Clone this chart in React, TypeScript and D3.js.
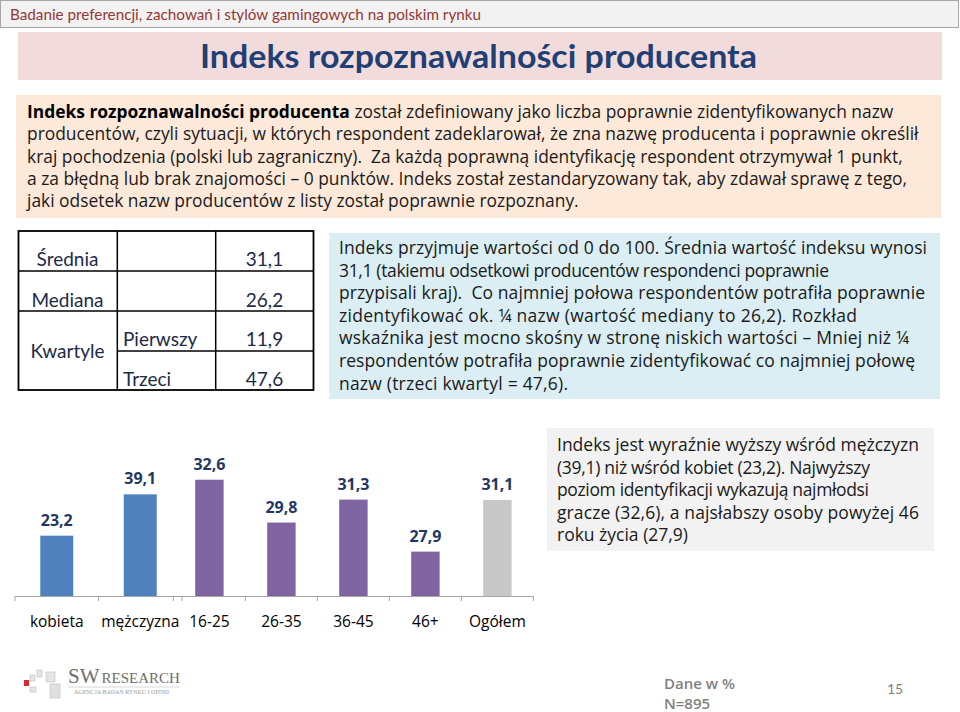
import React from "react";
import * as d3 from "d3";

// ---------- data ----------
const headerText = "Badanie preferencji, zachowań i stylów gamingowych na polskim rynku";
const titleText = "Indeks rozpoznawalności producenta";
const introBold = "Indeks rozpoznawalności producenta";
const introLines = [
  " został zdefiniowany jako liczba poprawnie zidentyfikowanych nazw",
  "producentów, czyli sytuacji, w których respondent zadeklarował, że zna nazwę producenta i poprawnie określił",
  "kraj pochodzenia (polski lub zagraniczny).  Za każdą poprawną identyfikację respondent otrzymywał 1 punkt,",
  "a za błędną lub brak znajomości – 0 punktów. Indeks został zestandaryzowany tak, aby zdawał sprawę z tego,",
  "jaki odsetek nazw producentów z listy został poprawnie rozpoznany.",
];

const statNames = ["Średnia", "Mediana"];
const statValues = [31.1, 26.2];
const quartileGroup = "Kwartyle";
const quartileNames = ["Pierwszy", "Trzeci"];
const quartileValues = [11.9, 47.6];

const blueLines = [
  "Indeks przyjmuje wartości od 0 do 100. Średnia wartość indeksu wynosi",
  "31,1 (takiemu odsetkowi producentów respondenci poprawnie",
  "przypisali kraj).  Co najmniej połowa respondentów potrafiła poprawnie",
  "zidentyfikować ok. ¼ nazw (wartość mediany to 26,2). Rozkład",
  "wskaźnika jest mocno skośny w stronę niskich wartości – Mniej niż ¼",
  "respondentów potrafiła poprawnie zidentyfikować co najmniej połowę",
  "nazw (trzeci kwartyl = 47,6).",
];
const blueLineWidths = [588, 490, 586, 518, 570, 576, 229];

const greyLines = [
  "Indeks jest wyraźnie wyższy wśród mężczyzn",
  "(39,1) niż wśród kobiet (23,2). Najwyższy",
  "poziom identyfikacji wykazują najmłodsi",
  "gracze (32,6), a najsłabszy osoby powyżej 46",
  "roku życia (27,9)",
];
const greyLineWidths = [362, 313, 312, 362, 131];

const genderCats = ["kobieta", "mężczyzna"];
const genderValues = [23.2, 39.1];
const ageCats = ["16-25", "26-35", "36-45", "46+"];
const ageValues = [32.6, 29.8, 31.3, 27.9];
const totalCats = ["Ogółem"];
const totalValues = [31.1];

const footerNote = ["Dane w %", "N=895"];
const pageNumber = "15";

// ---------- helpers ----------
const fmt = (v: number) => d3.format(".1f")(v).replace(".", ",");
const SANS = "'Open Sans', 'Noto Sans', sans-serif";
const CAL = "Lato, 'Open Sans', sans-serif";

const baseY = 596;
const yGender = d3.scaleLinear().domain([0, 50]).range([baseY, baseY - 130]);
const yAge = d3.scaleLinear().domain([25, 35]).range([baseY, baseY - 153]);
const yTotal = d3.scaleLinear().domain([0, 40]).range([baseY, baseY - 123.6]);

const xGender = d3.scaleBand<string>().domain(genderCats).range([15, 182]);
const xAge = d3.scaleBand<string>().domain(ageCats).range([173.4, 461.4]);
const xTotal = d3.scaleBand<string>().domain(totalCats).range([461.4, 533.4]);

const groups = [
  { cats: genderCats, vals: genderValues, x: xGender, y: yGender, color: "#4F81BD" },
  { cats: ageCats, vals: ageValues, x: xAge, y: yAge, color: "#8064A2" },
  { cats: totalCats, vals: totalValues, x: xTotal, y: yTotal, color: "#C8C8C8" },
];

export default function App() {
  const barRatio = 0.395;
  return (
    <svg
      width={960}
      height={712}
      style={{ position: "absolute", left: 0, top: 0, background: "#fff" }}
    >
      {/* header */}
      <rect x={0.5} y={0.5} width={958} height={27} fill="#F2F2F2" stroke="#A6A6A6" />
      <text x={10} y={19.5} fontFamily={CAL} fontSize={16} fill="#953735" textLength={471} lengthAdjust="spacingAndGlyphs">
        {headerText}
      </text>

      {/* title */}
      <rect x={18} y={32} width={924} height={48} fill="#F2DCDB" />
      <text x={478.5} y={67.5} textAnchor="middle" fontFamily={CAL} fontWeight={700} fontSize={32} fill="#1F3F75" textLength={557} lengthAdjust="spacingAndGlyphs">
        {titleText}
      </text>

      {/* intro */}
      <rect x={16} y={95} width={925} height={123} fill="#FDE9D9" />
      {introLines.map((l, i) => (
        <text key={i} x={27} y={118 + i * 22.3} fontFamily={SANS} fontSize={17.4} fill="#1a1a1a" style={{ whiteSpace: "pre" }}>
          {i === 0 ? <tspan fontWeight={700} fill="#000">{introBold}</tspan> : null}
          <tspan>{l}</tspan>
        </text>
      ))}

      {/* table */}
      <g fontFamily={CAL} fontSize={19} fill="#1C2A48">
        <rect x={18.5} y={231} width={295} height={159} fill="none" stroke="#000" strokeWidth={1.8} />
        <line x1={117.3} x2={117.3} y1={231} y2={390} stroke="#000" strokeWidth={1.5} />
        <line x1={215.7} x2={215.7} y1={231} y2={390} stroke="#000" strokeWidth={1.5} />
        <line x1={18.5} x2={313.5} y1={271} y2={271} stroke="#000" strokeWidth={1.5} />
        <line x1={18.5} x2={313.5} y1={311} y2={311} stroke="#000" strokeWidth={1.5} />
        <line x1={117.3} x2={313.5} y1={351} y2={351} stroke="#000" strokeWidth={1.5} />
        {statNames.map((n, i) => (
          <g key={n}>
            <text x={67.5} y={266 + i * 40.5} textAnchor="middle">{n}</text>
            <text x={264.5} y={266 + i * 40.5} textAnchor="middle">{fmt(statValues[i])}</text>
          </g>
        ))}
        <text x={67.5} y={358} textAnchor="middle">{quartileGroup}</text>
        {quartileNames.map((n, i) => (
          <g key={n}>
            <text x={123} y={346 + i * 39.5}>{n}</text>
            <text x={264.5} y={346 + i * 39.5} textAnchor="middle">{fmt(quartileValues[i])}</text>
          </g>
        ))}
      </g>

      {/* blue box */}
      <rect x={329} y={233} width={611} height={166} fill="#DAEEF3" />
      {blueLines.map((l, i) => (
        <text key={i} x={339} y={254 + i * 22.6} fontFamily={SANS} fontSize={17.5} fill="#1a1a1a" style={{ whiteSpace: "pre" }} textLength={blueLineWidths[i]} lengthAdjust="spacing">
          {l}
        </text>
      ))}

      {/* grey box */}
      <rect x={547} y={428} width={387} height={123} fill="#F2F2F2" />
      {greyLines.map((l, i) => (
        <text key={i} x={557} y={451 + i * 22.5} fontFamily={SANS} fontSize={17.5} fill="#1a1a1a" textLength={greyLineWidths[i]} lengthAdjust="spacing">
          {l}
        </text>
      ))}

      {/* bars */}
      {groups.map((g, gi) => (
        <g key={gi}>
          {g.cats.map((c, i) => {
            const bw = g.x.bandwidth() * barRatio;
            const cx = (g.x(c) as number) + g.x.bandwidth() / 2;
            const top = g.y(g.vals[i]);
            return (
              <g key={c}>
                <rect x={cx - bw / 2} y={top} width={bw} height={baseY - top} fill={g.color} />
                <text x={cx} y={top - 10} textAnchor="middle" fontFamily={SANS} fontWeight={700} fontSize={16} fill="#1F3864">
                  {fmt(g.vals[i])}
                </text>
                <text x={cx} y={627} textAnchor="middle" fontFamily={SANS} fontSize={15.5} fill="#000">
                  {c}
                </text>
              </g>
            );
          })}
          {[...g.x.domain().map((c) => g.x(c) as number), g.x.range()[1]].map((t, ti) => (
            <line key={ti} x1={t} x2={t} y1={baseY} y2={baseY + 5} stroke="#A6A6A6" />
          ))}
        </g>
      ))}
      <line x1={15} x2={533.4} y1={baseY + 0.5} y2={baseY + 0.5} stroke="#A6A6A6" />

      {/* logo */}
      <g>
        <rect x={30} y={675} width={5} height={6} fill="#E6E6E6" stroke="#BDBDBD" strokeWidth={0.6} />
        <rect x={37} y={670} width={5} height={7} fill="#E6E6E6" stroke="#BDBDBD" strokeWidth={0.6} />
        <rect x={46} y={672} width={9} height={10} fill="#E6E6E6" stroke="#BDBDBD" strokeWidth={0.6} />
        <rect x={50} y={684} width={10} height={14} fill="#E0E0E0" stroke="#BDBDBD" strokeWidth={0.6} />
        <rect x={30} y={687} width={6} height={5} fill="#E6E6E6" stroke="#BDBDBD" strokeWidth={0.6} />
        <rect x={24} y={680} width={5} height={6} fill="#D9262A" />
        <text x={68} y={683} fontFamily="'Liberation Serif', serif" fontSize={21} fill="#6E6E6E">
          SW<tspan fontSize={15} dx={2}>RESEARCH</tspan>
        </text>
        <line x1={68} x2={180} y1={687} y2={687} stroke="#BDBDBD" strokeWidth={0.6} />
        <text x={74} y={694} fontFamily="'Liberation Serif', serif" fontSize={5.5} fill="#9A9A9A" textLength={95} lengthAdjust="spacingAndGlyphs">
          AGENCJA BADAŃ RYNKU I OPINII
        </text>
      </g>

      {/* footer */}
      {footerNote.map((t, i) => (
        <text key={i} x={664} y={689 + i * 20} fontFamily={SANS} fontWeight={600} fontSize={15} fill="#7F7F7F">
          {t}
        </text>
      ))}
      <text x={887} y={694} fontFamily={CAL} fontSize={14} fill="#7F7F7F">
        {pageNumber}
      </text>
    </svg>
  );
}
